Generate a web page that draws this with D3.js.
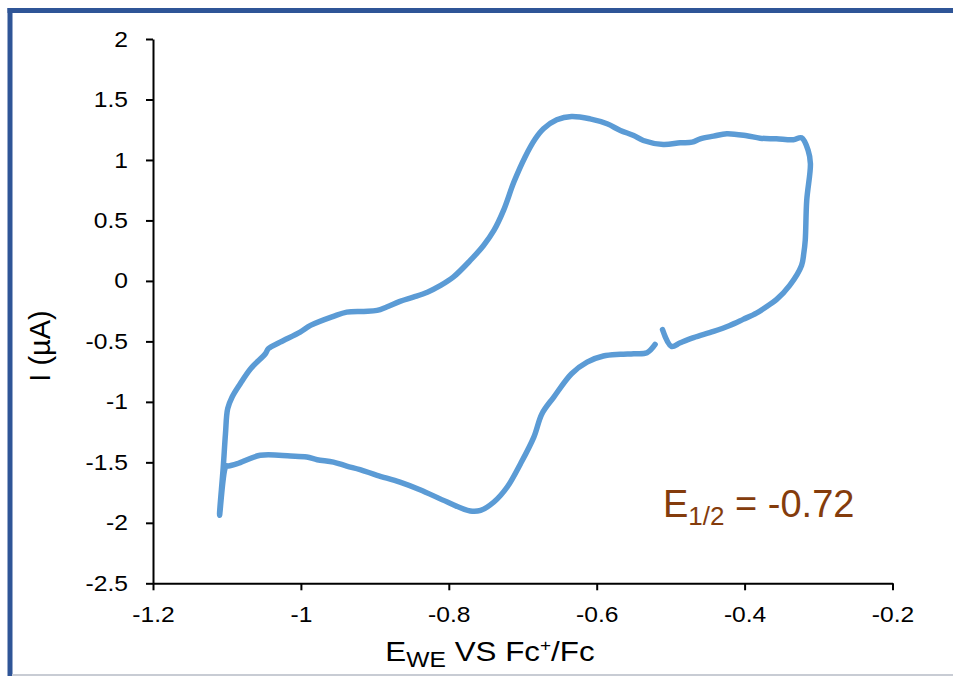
<!DOCTYPE html>
<html>
<head>
<meta charset="utf-8">
<script src="https://cdn.jsdelivr.net/npm/d3@7"></script>
<style>
  body { margin: 0; background: #fff; }
  svg { display: block; }
</style>
</head>
<body>
<div id="chart"></div>
<script>
// cyclic voltammogram (E in V vs Fc+/Fc, I in µA)
const potential = [
  -0.511, -0.499, -0.487, -0.469, -0.442, -0.420, -0.402, -0.384, -0.370, -0.357,
  -0.339, -0.323, -0.320, -0.318, -0.316, -0.311, -0.314, -0.323, -0.334, -0.357,
  -0.379, -0.397, -0.424, -0.442, -0.460, -0.471, -0.487, -0.510, -0.537, -0.550,
  -0.568, -0.586, -0.609, -0.634, -0.654, -0.672, -0.683, -0.697, -0.712, -0.726,
  -0.739, -0.753, -0.771, -0.794, -0.811, -0.829, -0.848, -0.866, -0.884, -0.897,
  -0.915, -0.938, -0.956, -0.987, -1.001, -1.028, -1.044, -1.048, -1.068, -1.082,
  -1.093, -1.099, -1.102, -1.105, -1.110, -1.101, -1.098, -1.086, -1.055, -1.014,
  -0.992, -0.978, -0.956, -0.938, -0.920, -0.897, -0.866, -0.839, -0.802, -0.771,
  -0.757, -0.739, -0.721, -0.703, -0.685, -0.674, -0.658, -0.634, -0.613, -0.591,
  -0.568, -0.550, -0.532, -0.521
];
const current = [
  -0.403, -0.541, -0.511, -0.469, -0.417, -0.368, -0.318, -0.266, -0.211, -0.155,
  -0.037, 0.128, 0.225, 0.335, 0.665, 0.969, 1.078, 1.183, 1.167, 1.175,
  1.180, 1.200, 1.217, 1.197, 1.175, 1.147, 1.142, 1.128, 1.161, 1.202,
  1.244, 1.299, 1.340, 1.360, 1.332, 1.258, 1.175, 1.023, 0.817, 0.583,
  0.417, 0.293, 0.169, 0.031, -0.037, -0.093, -0.134, -0.169, -0.216, -0.244,
  -0.252, -0.258, -0.293, -0.368, -0.423, -0.506, -0.560, -0.602, -0.726, -0.850,
  -0.960, -1.056, -1.263, -1.539, -1.938, -1.531, -1.531, -1.511, -1.442, -1.448,
  -1.456, -1.478, -1.498, -1.531, -1.560, -1.607, -1.663, -1.726, -1.828, -1.902,
  -1.897, -1.828, -1.704, -1.511, -1.291, -1.098, -0.960, -0.767, -0.671, -0.621,
  -0.607, -0.602, -0.593, -0.525
];
const xTicks = [-1.2, -1, -0.8, -0.6, -0.4, -0.2];
const yTicks = [2, 1.5, 1, 0.5, 0, -0.5, -1, -1.5, -2, -2.5];
const halfWave = '-0.72';

const width = 953;
const height = 676;
const stretch = 1.12;

const svg = d3.select('#chart')
  .append('svg')
  .attr('width', width)
  .attr('height', height);

// frame of the slide shape
svg.append('line')
  .attr('x1', 10).attr('y1', 676).attr('x2', 10).attr('y2', 8)
  .attr('stroke', '#2f5597').attr('stroke-width', 5);
svg.append('line')
  .attr('x1', 7.5).attr('y1', 10.5).attr('x2', 953).attr('y2', 10.5)
  .attr('stroke', '#2f5597').attr('stroke-width', 5);
svg.append('line')
  .attr('x1', 12).attr('y1', 675).attr('x2', 953).attr('y2', 675)
  .attr('stroke', '#c8ccd4').attr('stroke-width', 2);

const x = d3.scaleLinear()
  .domain([-1.2, -0.2])
  .range([153, 892.5]);

const y = d3.scaleLinear()
  .domain([-2.5, 2])
  .range([583.3, 39]);

const fmt = d => String(d);

function styleAxis(g) {
  g.attr('font-family', '"Liberation Sans", Arial, sans-serif')
    .attr('font-size', 22)
    .style('color', '#000');
  g.selectAll('path, line').attr('stroke-width', 2);
}

const xAxis = svg.append('g')
  .attr('transform', `translate(0,${y(-2.5)})`)
  .call(d3.axisBottom(x).tickValues(xTicks).tickFormat(fmt).tickSize(7).tickSizeOuter(0).tickPadding(16))
  .call(styleAxis);

const yAxis = svg.append('g')
  .attr('transform', `translate(${x(-1.2)},0)`)
  .call(d3.axisLeft(y).tickValues(yTicks).tickFormat(fmt).tickSize(7).tickSizeOuter(0).tickPadding(18))
  .call(styleAxis);

// glyphs in the picture are a bit wider than tall
xAxis.selectAll('.tick text').attr('transform', `scale(${stretch},1)`);
yAxis.selectAll('.tick text')
  .attr('x', function() { return +d3.select(this).attr('x') / stretch; })
  .attr('transform', `scale(${stretch},1)`);

const line = d3.line()
  .x(d => x(d[0]))
  .y(d => y(d[1]))
  .curve(d3.curveCatmullRom.alpha(0.5));

svg.append('path')
  .datum(d3.zip(potential, current))
  .attr('fill', 'none')
  .attr('stroke', '#5b9bd5')
  .attr('stroke-width', 5.5)
  .attr('stroke-linejoin', 'round')
  .attr('stroke-linecap', 'round')
  .attr('d', line);

// axis titles
const xTitle = svg.append('text')
  .attr('transform', `translate(490,661) scale(${stretch},1)`)
  .attr('text-anchor', 'middle')
  .attr('font-family', '"Liberation Sans", Arial, sans-serif')
  .attr('font-size', 28)
  .attr('fill', '#000');
xTitle.append('tspan').text('E');
xTitle.append('tspan').attr('font-size', 22).attr('dy', 6).text('WE');
xTitle.append('tspan').attr('dy', -6).text(' VS Fc');
xTitle.append('tspan').attr('font-size', 17).attr('dy', -10).text('+');
xTitle.append('tspan').attr('dy', 10).text('/Fc');

svg.append('text')
  .attr('transform', `translate(50,346) rotate(-90)`)
  .attr('text-anchor', 'middle')
  .attr('font-family', '"Liberation Sans", Arial, sans-serif')
  .attr('font-size', 29)
  .attr('fill', '#000')
  .text('I (µA)');

// half-wave potential note
const note = svg.append('text')
  .attr('x', 663)
  .attr('y', 517)
  .attr('font-family', '"Liberation Sans", Arial, sans-serif')
  .attr('font-size', 38)
  .attr('fill', '#843c0c');
note.append('tspan').text('E');
note.append('tspan').attr('font-size', 26).attr('dy', 8).text('1/2');
note.append('tspan').attr('dy', -8).text(' = ' + halfWave);
</script>
</body>
</html>
